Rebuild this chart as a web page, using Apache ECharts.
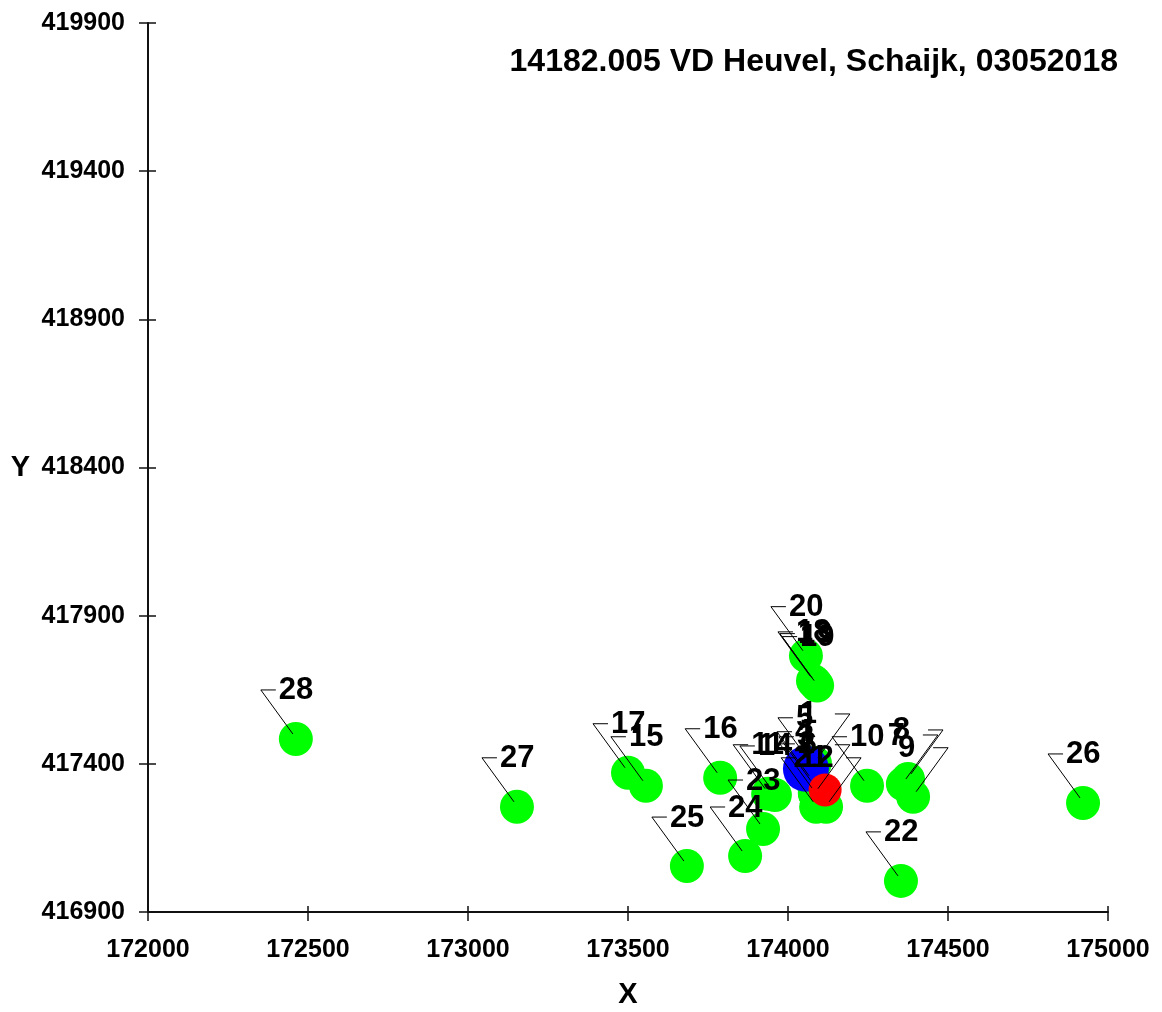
<!DOCTYPE html>
<html>
<head>
<meta charset="utf-8">
<script src="https://cdn.jsdelivr.net/npm/echarts@6/dist/echarts.min.js"></script>
<style>
html,body{margin:0;padding:0;background:#fff;}
#chart{width:1162px;height:1012px;}
</style>
</head>
<body>
<div id="chart"></div>
<script>
// ---- data ----
const titleText = '14182.005 VD Heuvel, Schaijk, 03052018';
const pointLabels = ['1','2','3','4','5','6','7','8','9','10','11','12','13','14','15','16','17','18','19','20','21','22','23','24','25','26','27','28'];
const pointX = [174084,174084,174081,174075,174078,174084,174359,174375,174391,174247,173938,174088,174084,173959,173556,173788,173500,174078,174091,174056,174119,174353,173922,173866,173684,174922,173153,172462];
const pointY = [417403,417302,417326,417343,417390,417299,417332,417349,417289,417326,417299,417255,417674,417295,417326,417353,417370,417680,417664,417765,417255,417005,417180,417089,417055,417268,417255,417484];
const blueX = [174056];
const blueY = [417383];
const redX = [174116];
const redY = [417312];
const xTicks = [172000,172500,173000,173500,174000,174500,175000];
const yTicks = [416900,417400,417900,418400,418900,419400,419900];

// labels whose leader goes up-right (style setting)
const rightSideLabels = ['1','6','7','8','9','21'];

const FONT = '"Liberation Sans", Arial, sans-serif';
const chart = echarts.init(document.getElementById('chart'));

const xMin = xTicks[0], xMax = xTicks[xTicks.length-1], xInt = xTicks[1]-xTicks[0];
const yMin = yTicks[0], yMax = yTicks[yTicks.length-1], yInt = yTicks[1]-yTicks[0];

function zip(a,b){ return a.map((v,i)=>[v,b[i]]); }
function plain(v){ return String(v); }

const axisLineStyle = {color:'#111', width:2};
const tickStyle = {color:'#111', width:1.5};

chart.setOption({
  animation:false,
  backgroundColor:'#fff',
  title:{
    text:titleText, right:44, top:46, padding:0,
    textStyle:{fontFamily:FONT, fontWeight:'bold', fontSize:32, color:'#000', lineHeight:32}
  },
  grid:{left:148, right:54, top:23, bottom:100, outerBoundsMode:'none', containLabel:false},
  xAxis:[{
    type:'value', min:xMin, max:xMax, interval:xInt, position:'bottom',
    name:'X', nameLocation:'middle', nameGap:68,
    nameTextStyle:{fontFamily:FONT, fontWeight:'bold', fontSize:29, color:'#000'},
    axisLine:{show:true, onZero:false, lineStyle:axisLineStyle},
    axisTick:{show:true, length:9, lineStyle:tickStyle},
    axisLabel:{fontFamily:FONT, fontWeight:'bold', fontSize:25, color:'#000', margin:26, formatter:plain},
    splitLine:{show:false}
  },{
    type:'value', min:xMin, max:xMax, interval:xInt, position:'bottom',
    axisLine:{show:false, onZero:false},
    axisTick:{show:true, inside:true, length:6, lineStyle:tickStyle},
    axisLabel:{show:false}, splitLine:{show:false}
  }],
  yAxis:[{
    type:'value', min:yMin, max:yMax, interval:yInt, position:'left',
    name:'Y', nameLocation:'middle', nameGap:118, nameRotate:0,
    nameTextStyle:{fontFamily:FONT, fontWeight:'bold', fontSize:29, color:'#000'},
    axisLine:{show:true, onZero:false, lineStyle:axisLineStyle},
    axisTick:{show:true, length:9, lineStyle:tickStyle},
    axisLabel:{fontFamily:FONT, fontWeight:'bold', fontSize:25, color:'#000', margin:23, formatter:plain},
    splitLine:{show:false}
  },{
    type:'value', min:yMin, max:yMax, interval:yInt, position:'left',
    axisLine:{show:false, onZero:false},
    axisTick:{show:true, inside:true, length:8, lineStyle:tickStyle},
    axisLabel:{show:false}, splitLine:{show:false}
  }],
  series:[
    {
      type:'scatter', name:'punten', data:zip(pointX,pointY),
      symbol:'circle', symbolSize:34,
      itemStyle:{color:'#00ff00', opacity:1}, z:2
    },
    {
      type:'scatter', name:'blauw', data:zip(blueX,blueY),
      symbol:'circle', symbolSize:46,
      itemStyle:{color:'#0000ff', opacity:1}, z:3
    },
    {
      type:'scatter', name:'rood', data:zip(redX,redY),
      symbol:'circle', symbolSize:33,
      itemStyle:{color:'#ff0000', opacity:1}, z:4
    },
    {
      type:'custom', name:'labels', z:10, clip:false,
      data:pointX.map((x,i)=>[x, pointY[i], i]),
      encode:{x:0, y:1},
      renderItem:function(params, api){
        const p = api.coord([api.value(0), api.value(1)]);
        const lab = pointLabels[api.value(2)];
        const right = rightSideLabels.indexOf(lab) >= 0;
        const s = right ? 1 : -1;
        const topY = p[1] - 49;
        const topX = p[0] + s*35;
        const tickEnd = p[0] + s*20;
        return {
          type:'group',
          children:[
            {type:'polyline', shape:{points:[[p[0]+s*3, p[1]-5],[topX, topY],[tickEnd, topY]]},
             style:{stroke:'#000', lineWidth:1, fill:null}},
            {type:'text', style:{
              text:lab, x: right ? p[0]+2 : p[0]-17, y: p[1]-48,
              align: right ? 'right' : 'left', verticalAlign:'middle',
              font:'bold 31px ' + FONT, fill:'#000'}}
          ]
        };
      }
    }
  ]
});
</script>
</body>
</html>
